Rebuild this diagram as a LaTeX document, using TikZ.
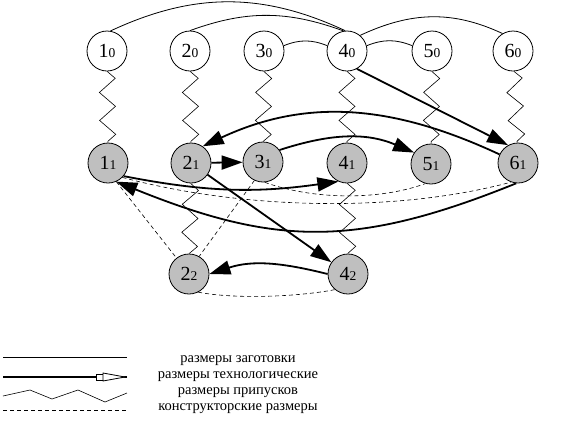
\documentclass[tikz,border=0pt]{standalone}
\usepackage{fontspec}
\setmainfont{Liberation Serif}
\usepackage{tikz}
\usetikzlibrary{arrows.meta,decorations.pathmorphing}

\newcommand{\nlab}[2]{{\fontsize{20}{20}\selectfont #1}{\fontsize{13.5}{13.5}\selectfont #2}}

\begin{document}
\begin{tikzpicture}[x=1pt,y=-1pt,
                    blank node/.style={circle,draw,fill=white,minimum size=40pt,inner sep=0pt,line width=0.8pt},
                    work node/.style={blank node,fill=black!25},
                    blank size/.style={line width=0.8pt},
                    tech size/.style={-{Triangle[length=21pt,width=14pt]},line width=1.8pt},
                    allowance/.style={line width=0.6pt,decorate,decoration={zigzag,segment length=28pt,amplitude=8pt}},
                    design size/.style={line width=0.6pt,dash pattern=on 4pt off 3pt},
                    legend/.style={font=\fontsize{14.5}{15}\selectfont}]

  \useasboundingbox (0,0) rectangle (562,421);

  % blank (stage 0)
  \node[blank node] (10) at (107,51) {\nlab{1}{0}};
  \node[blank node] (20) at (190,51) {\nlab{2}{0}};
  \node[blank node] (30) at (264,51) {\nlab{3}{0}};
  \node[blank node] (40) at (347,51) {\nlab{4}{0}};
  \node[blank node] (50) at (432,51) {\nlab{5}{0}};
  \node[blank node] (60) at (513,51) {\nlab{6}{0}};

  % after operations
  \node[work node] (11) at (108,163) {\nlab{1}{1}};
  \node[work node] (21) at (191,163) {\nlab{2}{1}};
  \node[work node] (31) at (263,162) {\nlab{3}{1}};
  \node[work node] (41) at (347,163) {\nlab{4}{1}};
  \node[work node] (51) at (431,164) {\nlab{5}{1}};
  \node[work node] (61) at (518,163) {\nlab{6}{1}};
  \node[work node] (22) at (189,274) {\nlab{2}{2}};
  \node[work node] (42) at (348,274) {\nlab{4}{2}};

\path[blank size]
    (10.80) edge[out=25,in=155] (40.95)
    (20.90) edge[out=20,in=160] (40.100)
    (30.15) edge[out=22,in=158] (40.165)
    (40.15) edge[out=22,in=158] (50.165)
    (40.50) edge[out=25,in=155] (60.121)
;

\path[every edge/.append style={allowance}]
    (10) edge (11)
    (20) edge (21)
    (30) edge (31)
    (40) edge (41)
    (50) edge (51)
    (60) edge (61)
    (21) edge (22)
    (41) edge (42)
;

\path[design size]
    (11.-66) edge (22.128)
    (31.245) edge (22.60)
    (31.-85) edge[out=-20,in=200,looseness=0.8] (51.254)
    (11.-45) edge[out=-15,in=195,looseness=0.8] (61.-110)
    (22.-63) edge[out=-11,in=191,looseness=0.7] (42.230)
;

\path[tech size]
    (40.-61) edge (61.119)
    (61.155) edge[out=155,in=25] (21.55)
    (31.36) edge[out=18,in=157] (51.146)
    (21) edge (31)
    (11.-40) edge[out=-11,in=188] (41.245)
    (61.-95) edge[out=202,in=-22,looseness=1.1] (11.-66)
    (21) edge (42)
    (42.180) edge[out=166,in=18] (22.0)
;

  % legend
  \draw[blank size] (3,357) -- (127,357);
  \draw[line width=1.8pt] (3,377) -- (127,377);
  \draw[line width=0.8pt,fill=white] (96,374) rectangle (103,380);
  \draw[line width=0.8pt,fill=white] (103,373) -- (125,377) -- (103,381) -- cycle;
  \draw[line width=0.6pt] (3,396) -- (30,390) -- (52,399) -- (78,390) -- (105,402) -- (127,393);
  \draw[design size] (3,410) -- (127,410);

  \node[legend] (lg1) at (238,361) {размеры заготовки};
  \node[legend] (lg2) at (238,377) {размеры технологические};
  \node[legend] (lg3) at (238,393) {размеры припусков};
  \node[legend] (lg4) at (238,409) {конструкторские размеры};
\end{tikzpicture}
\end{document}
